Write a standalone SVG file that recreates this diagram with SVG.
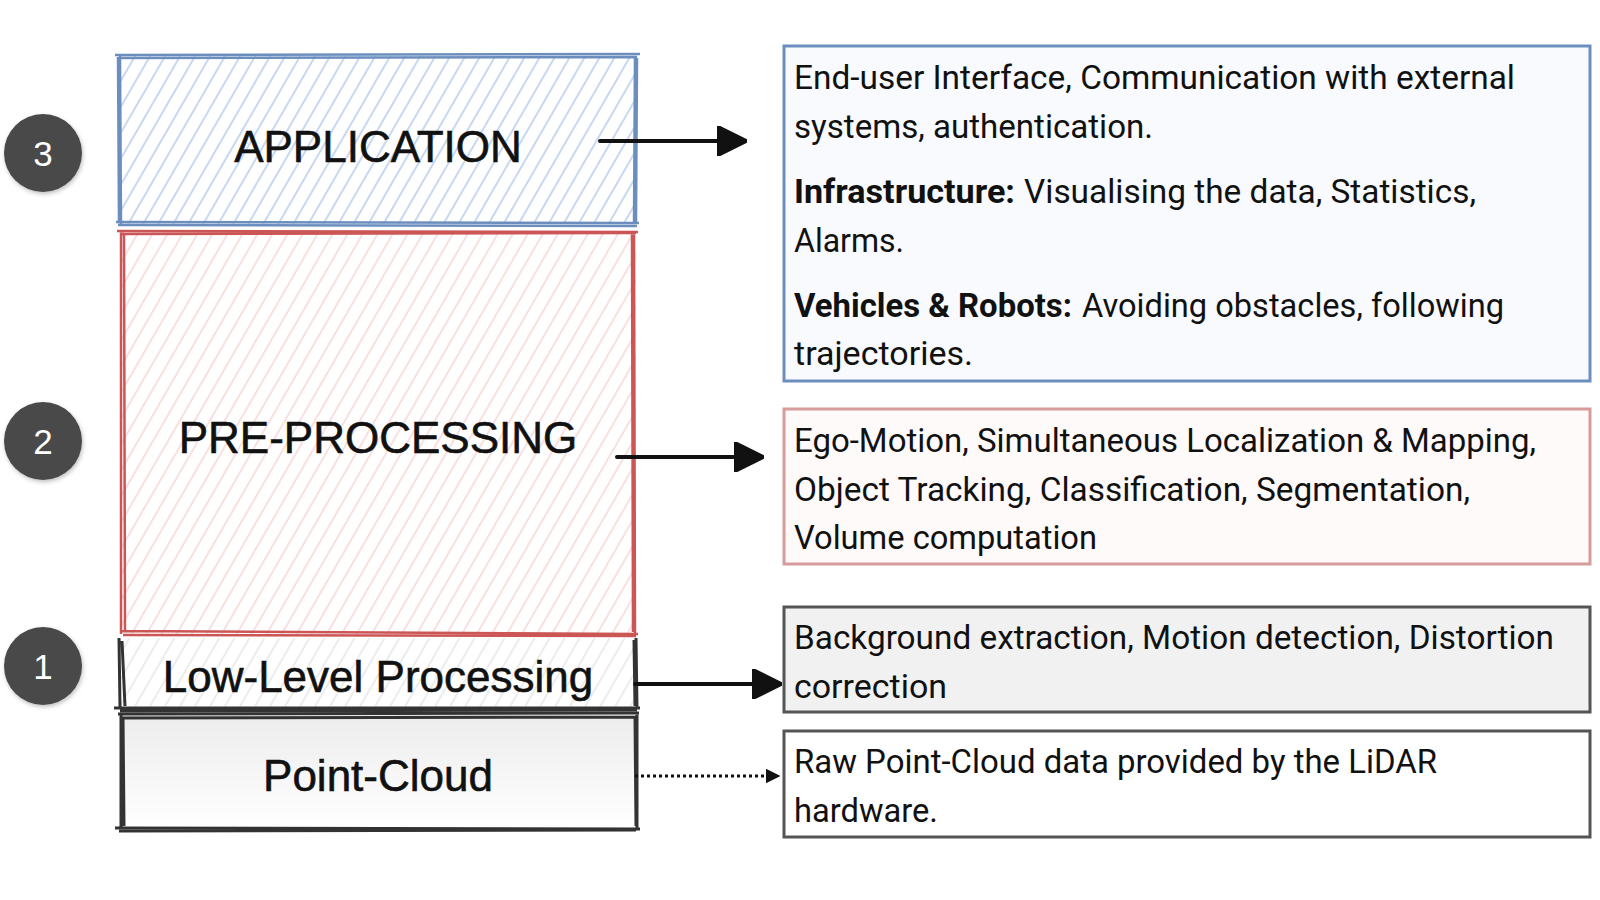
<svg xmlns="http://www.w3.org/2000/svg" width="1600" height="900" viewBox="0 0 1600 900">
<style>
.lbl{font-family:"Liberation Sans",Arial,sans-serif;font-size:44px;fill:#111;stroke:#111;stroke-width:0.6;text-anchor:middle}
.num{font-family:"Liberation Sans",Arial,sans-serif;font-size:35px;fill:#fff;text-anchor:middle}
.t{font-family:Roboto,"Noto Sans",sans-serif;font-size:33px;fill:#111}
.b{font-weight:bold}
.circ{fill:#4a4a4a}
.conn{stroke:#111;stroke-width:4;fill:none;stroke-linecap:round}
</style>
<defs>
<pattern id="hb" width="13" height="13" patternUnits="userSpaceOnUse" patternTransform="rotate(30)">
<line x1="2" y1="0" x2="2" y2="13" stroke="#aac3ea" stroke-width="1.3"/>
</pattern>
<pattern id="hr" width="13" height="13" patternUnits="userSpaceOnUse" patternTransform="rotate(30)">
<line x1="2" y1="0" x2="2" y2="13" stroke="#f6cfcf" stroke-width="1.3"/>
</pattern>
<pattern id="hg" width="13" height="13" patternUnits="userSpaceOnUse" patternTransform="rotate(30)">
<line x1="2" y1="0" x2="2" y2="13" stroke="#e2e2e2" stroke-width="1.3"/>
</pattern>
<linearGradient id="gpc" x1="0" y1="0" x2="0" y2="1">
<stop offset="0" stop-color="#ececec"/>
<stop offset="1" stop-color="#ffffff"/>
</linearGradient>
<marker id="ah" viewBox="0 0 10 10" refX="9" refY="5" markerWidth="7.5" markerHeight="7.5" markerUnits="strokeWidth" orient="auto">
<path d="M0,0 L10,5 L0,10 z" fill="#111" stroke="#111" stroke-width="1" stroke-linejoin="round"/>
</marker>
<marker id="ahs" viewBox="0 0 10 10" refX="9" refY="5" markerWidth="5" markerHeight="5" markerUnits="strokeWidth" orient="auto">
<path d="M0,0 L10,5 L0,10 z" fill="#111"/>
</marker>
<filter id="sh" x="-20%" y="-20%" width="150%" height="150%">
<feDropShadow dx="1" dy="2" stdDeviation="2" flood-color="#000" flood-opacity="0.25"/>
</filter>
</defs>
<rect width="1600" height="900" fill="#fff"/>

<g id="badge3"><circle class="circ" cx="43" cy="153" r="39" filter="url(#sh)"/><text class="num" x="43" y="166">3</text></g>
<g id="badge2"><circle class="circ" cx="43" cy="441" r="39" filter="url(#sh)"/><text class="num" x="43" y="454">2</text></g>
<g id="badge1"><circle class="circ" cx="43" cy="666" r="39" filter="url(#sh)"/><text class="num" x="43" y="679">1</text></g>

<g id="application">
<rect x="119" y="56" width="517" height="168" fill="url(#hb)"/>
<path d="M115,55 L640,54 M119,58 L637,57 M120,56 L121,224 M118,57 L119,222 M635,56 L634,224 M637,58 L636,222 M116,222 L639,223 M118,225 L637,226" stroke="#6c8ebf" stroke-width="2.5" fill="none"/>
<text class="lbl" x="378" y="162">APPLICATION</text>
</g>

<g id="preprocessing">
<rect x="121" y="232" width="515" height="403" fill="url(#hr)"/>
<path d="M117,231 L638,232 M121,234 L636,233 M121,232 L121,634 M124,234 L125,632 M634,231 L635,635 M632,234 L633,632 M121,631 L638,634 M123,635 L636,636" stroke="#cc5555" stroke-width="2.5" fill="none"/>
<text class="lbl" x="378" y="453">PRE-PROCESSING</text>
</g>

<g id="lowlevel">
<rect x="119" y="638" width="517" height="71" fill="url(#hg)"/>
<path d="M119,638 L120,708 M122,641 L125,706 M636,638 L637,709 M634,640 L635,706 M114,708 L640,708 M120,711 L637,710" stroke="#333" stroke-width="3" fill="none"/>
<text class="lbl" x="378" y="692">Low-Level Processing</text>
</g>

<g id="pointcloud">
<rect x="121" y="715" width="516" height="113" fill="url(#gpc)"/>
<path d="M118,714 L639,713 M122,718 L636,717 M121,715 L121,828 M123,717 L124,826 M637,714 L637,829 M635,716 L636,826 M115,828 L640,829 M119,831 L636,830" stroke="#333" stroke-width="3" fill="none"/>
<text class="lbl" x="378" y="791">Point-Cloud</text>
</g>

<g id="connectors">
<line class="conn" x1="600" y1="141" x2="744" y2="141" marker-end="url(#ah)"/>
<line class="conn" x1="617" y1="457" x2="761" y2="457" marker-end="url(#ah)"/>
<line class="conn" x1="635" y1="684" x2="779" y2="684" marker-end="url(#ah)"/>
<line x1="635" y1="776" x2="779" y2="776" stroke="#111" stroke-width="3" stroke-dasharray="3,3" marker-end="url(#ahs)"/>
</g>

<g id="desc-application">
<rect x="784" y="46" width="806" height="335" fill="#f8fafd" stroke="#6c8ebf" stroke-width="3"/>
<text class="t" x="794" y="89" textLength="721" lengthAdjust="spacingAndGlyphs">End-user Interface, Communication with external</text>
<text class="t" x="794" y="138" textLength="359" lengthAdjust="spacingAndGlyphs">systems, authentication.</text>
<text class="t b" x="794" y="203" textLength="221" lengthAdjust="spacingAndGlyphs">Infrastructure:</text>
<text class="t" x="1024" y="203" textLength="452" lengthAdjust="spacingAndGlyphs">Visualising the data, Statistics,</text>
<text class="t" x="794" y="252" textLength="110" lengthAdjust="spacingAndGlyphs">Alarms.</text>
<text class="t b" x="794" y="317" textLength="278" lengthAdjust="spacingAndGlyphs">Vehicles &amp; Robots:</text>
<text class="t" x="1082" y="317" textLength="422" lengthAdjust="spacingAndGlyphs">Avoiding obstacles, following</text>
<text class="t" x="794" y="365" textLength="179" lengthAdjust="spacingAndGlyphs">trajectories.</text>
</g>

<g id="desc-preprocessing">
<rect x="784" y="409" width="806" height="155" fill="#fdfaf9" stroke="#d69b9b" stroke-width="3"/>
<text class="t" x="794" y="452" textLength="742" lengthAdjust="spacingAndGlyphs">Ego-Motion, Simultaneous Localization &amp; Mapping,</text>
<text class="t" x="794" y="501" textLength="676" lengthAdjust="spacingAndGlyphs">Object Tracking, Classification, Segmentation,</text>
<text class="t" x="794" y="549" textLength="303" lengthAdjust="spacingAndGlyphs">Volume computation</text>
</g>

<g id="desc-lowlevel">
<rect x="784" y="607" width="806" height="105" fill="#f1f1f1" stroke="#555" stroke-width="3"/>
<text class="t" x="794" y="649" textLength="760" lengthAdjust="spacingAndGlyphs">Background extraction, Motion detection, Distortion</text>
<text class="t" x="794" y="698" textLength="153" lengthAdjust="spacingAndGlyphs">correction</text>
</g>

<g id="desc-pointcloud">
<rect x="784" y="731" width="806" height="106" fill="#fff" stroke="#555" stroke-width="3"/>
<text class="t" x="794" y="773" textLength="643" lengthAdjust="spacingAndGlyphs">Raw Point-Cloud data provided by the LiDAR</text>
<text class="t" x="794" y="822" textLength="144" lengthAdjust="spacingAndGlyphs">hardware.</text>
</g>
</svg>
